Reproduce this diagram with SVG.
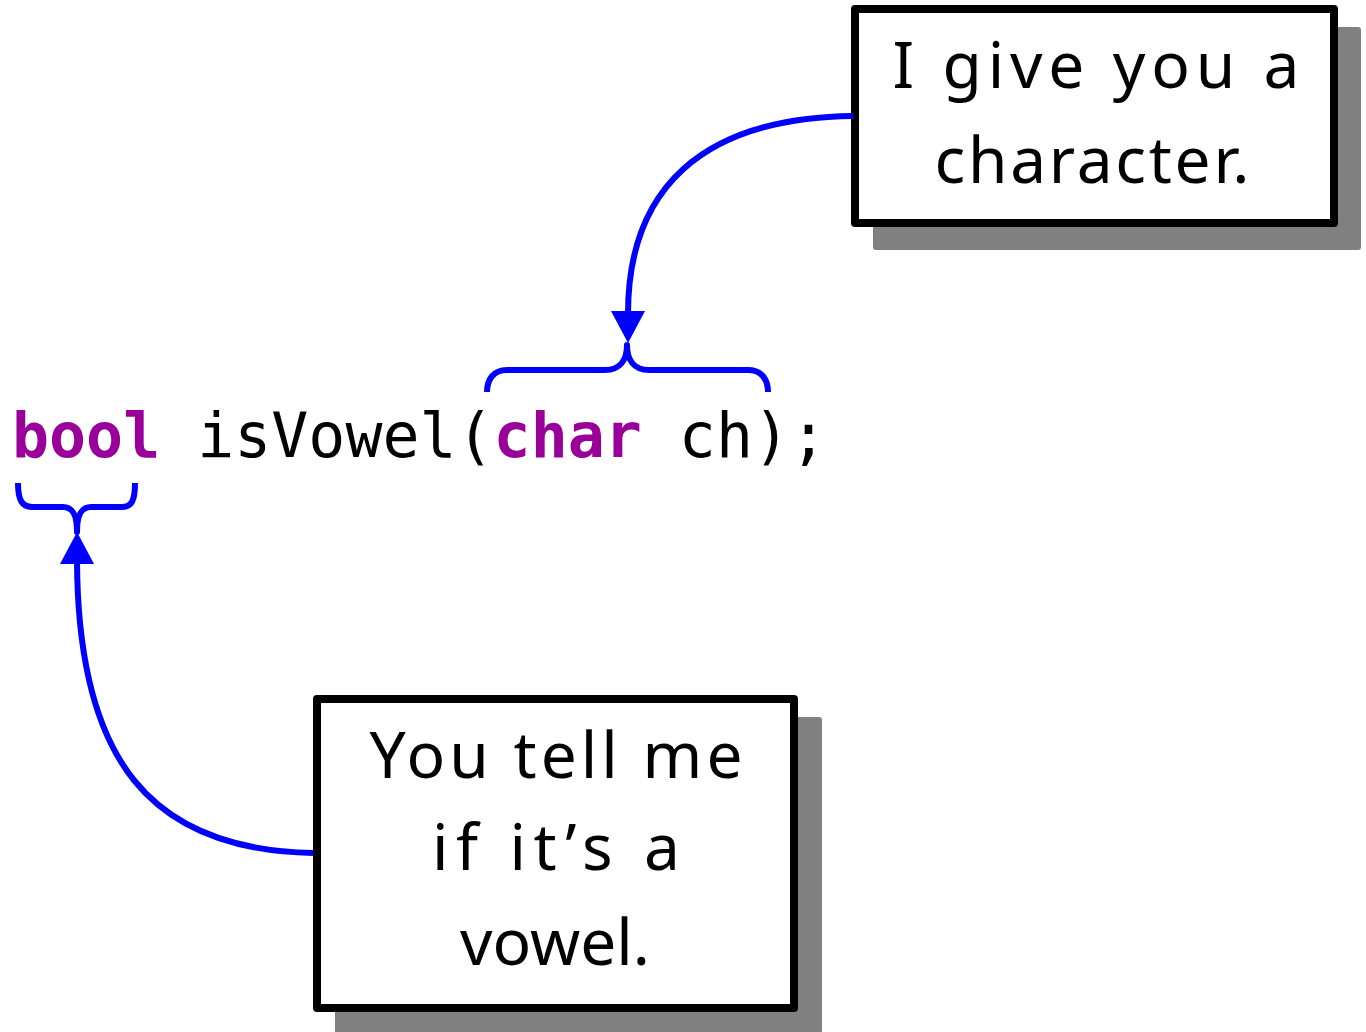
<svg xmlns="http://www.w3.org/2000/svg" width="1366" height="1032" viewBox="0 0 1366 1032">
<style>
.shadow{fill:#808080}
.box{fill:#fff;stroke:#000;stroke-width:8;stroke-linejoin:round}
.hand{font-family:"Noto Sans","Liberation Sans",sans-serif;font-size:64px;fill:#000;text-anchor:middle}
.code{font-family:"DejaVu Sans Mono","Liberation Mono",monospace;font-size:61.5px;fill:#000}
.kw{fill:#990099;font-weight:bold}
.conn{fill:none;stroke:#0000ff;stroke-width:6}
.brace{fill:none;stroke:#0000ff;stroke-width:6;stroke-linecap:butt;stroke-linejoin:round}
.head{fill:#0000ff}
</style>
<rect width="1366" height="1032" fill="#fff"/>
<g id="code">
<text class="code" x="12" y="457" textLength="815" lengthAdjust="spacing"><tspan class="kw">bool</tspan> isVowel(<tspan class="kw">char</tspan> ch);</text>
</g>
<g id="box-give">
<rect class="shadow" x="873" y="27" width="488" height="223" rx="3"/>
<rect class="box" x="855" y="9" width="479" height="214"/>
<text class="hand" x="1096" y="88" textLength="407" lengthAdjust="spacing">I give you a</text>
<text class="hand" x="1092" y="183" textLength="315" lengthAdjust="spacing">character.</text>
</g>
<g id="box-tell">
<rect class="shadow" x="335" y="717" width="487" height="320" rx="3"/>
<rect class="box" x="317" y="699" width="477" height="309"/>
<text class="hand" x="556" y="778" textLength="373" lengthAdjust="spacing">You tell me</text>
<text class="hand" x="556" y="870" textLength="248" lengthAdjust="spacing">if it’s a</text>
<text class="hand" x="555" y="965" textLength="190" lengthAdjust="spacing">vowel.</text>
</g>
<g id="connectors">
<path class="brace" d="M487,392 C487,380 493,370 507,370 L605,370 C620,370 627,360 627,345 C627,360 634,370 649,370 L748,370 C762,370 768,380 768,392"/>
<path class="brace" d="M18,483 C18,500 22,507 32,507 L63,507 C73,507 77,515 77,532 C77,515 81,507 91,507 L122,507 C132,507 135,500 135,483"/>
<path class="conn" d="M853,116 C700,118 628,190 628,314"/>
<polygon class="head" points="611,311 645,311 628,343"/>
<path class="conn" d="M313,853 C150,850 78,760 77,561"/>
<polygon class="head" points="60,564 94,564 77,532"/>
</g>
</svg>
